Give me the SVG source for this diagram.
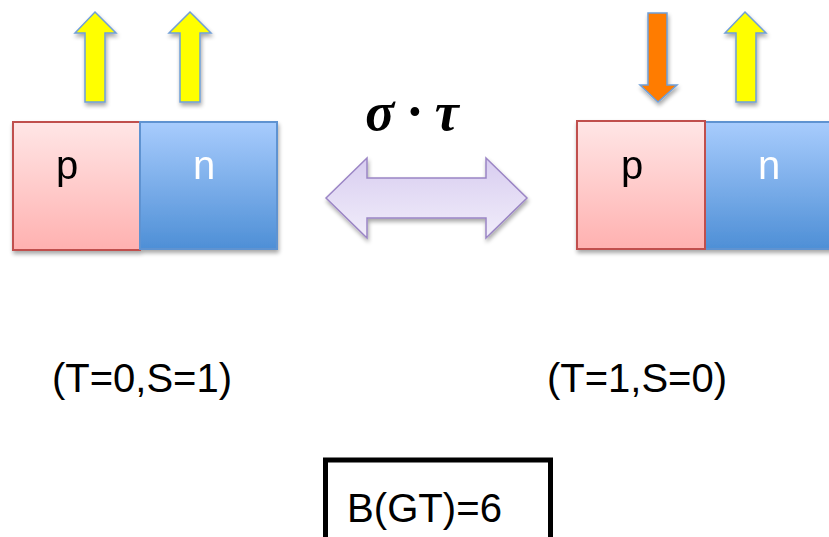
<svg xmlns="http://www.w3.org/2000/svg" width="829" height="537" viewBox="0 0 829 537">
<defs>
<linearGradient id="gp" x1="0" y1="0" x2="0" y2="1"><stop offset="0" stop-color="#ffe6e6"/><stop offset="1" stop-color="#ffb1b0"/></linearGradient>
<linearGradient id="gn" x1="0" y1="0" x2="0" y2="1"><stop offset="0" stop-color="#a8ccfd"/><stop offset="1" stop-color="#4e8fd6"/></linearGradient>
<linearGradient id="gd" x1="0" y1="0" x2="0" y2="1"><stop offset="0" stop-color="#d8cdf0"/><stop offset="1" stop-color="#f1edfa"/></linearGradient>
<filter id="sh" x="-10%" y="-10%" width="130%" height="130%"><feGaussianBlur in="SourceAlpha" stdDeviation="2"/><feOffset dx="1" dy="3"/><feComponentTransfer><feFuncA type="linear" slope="0.35"/></feComponentTransfer><feMerge><feMergeNode/><feMergeNode in="SourceGraphic"/></feMerge></filter>
</defs>
<style>
.p{fill:url(#gp);stroke:#c0504d;stroke-width:2}
.n{fill:url(#gn);stroke:#5e93d1;stroke-width:2}
.ya{fill:#ffff00;stroke:#6f9fd8;stroke-width:1.5}
.oa{fill:#ff7b00;stroke:#6f9fd8;stroke-width:1.5}
.lb{font-family:"Liberation Sans",Arial,sans-serif;font-size:40px;text-anchor:middle}
</style>
<g id="left-block" filter="url(#sh)">
<rect class="p" x="13" y="122" width="127" height="128"/>
<rect class="n" x="140" y="122" width="137" height="127"/>
<text class="lb" x="67" y="179" fill="#000">p</text>
<text class="lb" x="204" y="179" fill="#fff">n</text>
</g>
<g id="left-arrows" filter="url(#sh)">
<polygon class="ya" points="95,12 116,33 105,33 105,102 85,102 85,33 75,33"/>
<polygon class="ya" points="190,12 211,33 200,33 200,102 180,102 180,33 169,33"/>
</g>
<g id="right-block" filter="url(#sh)">
<rect class="n" x="705" y="122" width="130" height="127"/>
<rect class="p" x="577" y="121" width="128" height="128"/>
<text class="lb" x="632" y="179" fill="#000">p</text>
<text class="lb" x="769" y="179" fill="#fff">n</text>
</g>
<g id="right-arrows" filter="url(#sh)">
<polygon class="oa" points="648,13 667,13 667,85 677,85 658,102 640,85 648,85"/>
<polygon class="ya" points="745,12 766,33 756,33 756,102 736,102 736,33 725,33"/>
</g>
<g id="connectors">
<polygon filter="url(#sh)" points="326,198 367,158 367,178 486,178 486,158 527,198 486,238 486,218 367,218 367,238" fill="url(#gd)" stroke="#9b85c5" stroke-width="1.5"/>
<text x="412" y="130" font-family="'Liberation Serif','Times New Roman',serif" font-size="54" font-weight="bold" font-style="italic" text-anchor="middle">σ · τ</text>
</g>
<g id="labels">
<text class="lb" x="142" y="392">(T=0,S=1)</text>
<text class="lb" x="637" y="392">(T=1,S=0)</text>
</g>
<g id="result">
<rect x="325.5" y="460" width="225" height="100" fill="none" stroke="#000" stroke-width="5"/>
<text class="lb" x="424.5" y="522" textLength="155" lengthAdjust="spacingAndGlyphs" font-size="44">B(GT)=6</text>
</g>
</svg>
